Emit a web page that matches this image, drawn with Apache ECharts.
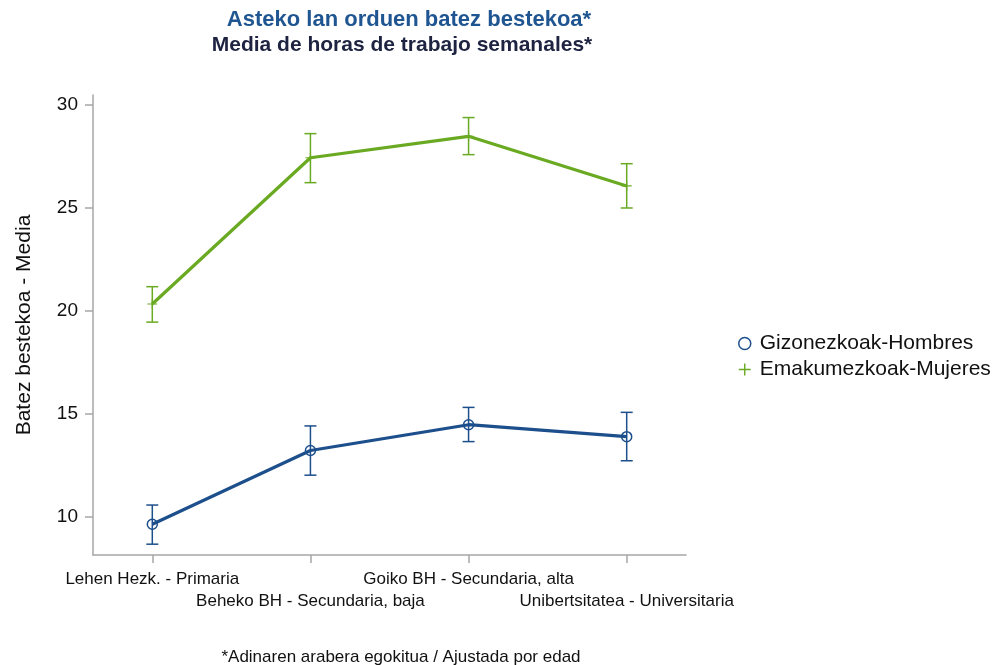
<!DOCTYPE html>
<html>
<head>
<meta charset="utf-8">
<script src="https://cdn.jsdelivr.net/npm/echarts@6/dist/echarts.min.js"></script>
<style>
html,body{margin:0;padding:0;background:#fff;}
#chart{width:1000px;height:665px;}
</style>
</head>
<body>
<div id="chart"></div>
<script>
// ---- data ----
const categories = ['Lehen Hezk. - Primaria', 'Beheko BH - Secundaria, baja', 'Goiko BH - Secundaria, alta', 'Unibertsitatea - Universitaria'];
const seriesNames = ['Gizonezkoak-Hombres', 'Emakumezkoak-Mujeres'];
const menMean = [9.65, 13.23, 14.48, 13.90];
const menLow  = [8.68, 12.03, 13.66, 12.73];
const menHigh = [10.58, 14.42, 15.32, 15.08];
const womenMean = [20.34, 27.44, 28.48, 26.07];
const womenLow  = [19.46, 26.23, 27.59, 25.00];
const womenHigh = [21.18, 28.61, 29.39, 27.15];
const yTicks = [10, 15, 20, 25, 30];
const xTicks = [1, 2, 3, 4];
const xTicksRow1 = [1, 3];
const xTicksRow2 = [2, 4];

const blue = '#1c4f8b';
const green = '#6aaa22';
const plusPath = 'path://M4.4,0H5.6V4.4H10V5.6H5.6V10H4.4V5.6H0V4.4H4.4Z';
const font = 'Liberation Sans, Arial, sans-serif';

function pts(arr){ return arr.map((v,i)=>[xTicks[i], v]); }
function errData(lo, hi){ return lo.map((v,i)=>[xTicks[i], v, hi[i]]); }

function errorRender(color){
  return function(params, api){
    const x = api.value(0);
    const lo = api.coord([x, api.value(1)]);
    const hi = api.coord([x, api.value(2)]);
    const hw = 6;
    const st = {stroke: color, lineWidth: 1.5, fill: null};
    return {type:'group', children:[
      {type:'line', shape:{x1:lo[0], y1:lo[1], x2:hi[0], y2:hi[1]}, style:st},
      {type:'line', shape:{x1:lo[0]-hw, y1:lo[1], x2:lo[0]+hw, y2:lo[1]}, style:st},
      {type:'line', shape:{x1:hi[0]-hw, y1:hi[1], x2:hi[0]+hw, y2:hi[1]}, style:st}
    ]};
  };
}

function catLabel(v){ return categories[Math.round(v)-1]; }
const axisGray = '#a6a6a6';

const chart = echarts.init(document.getElementById('chart'), null, {renderer:'canvas'});
chart.setOption({
  animation:false,
  backgroundColor:'#fff',
  textStyle:{fontFamily:font},
  grid:{left:93, right:314, top:95, bottom:110, containLabel:false},
  graphic:[
    {type:'text', x:409, y:20, style:{text:'Asteko lan orduen batez bestekoa*', fill:'#1f5591', font:'bold 22px '+font, textAlign:'center', textVerticalAlign:'middle'}},
    {type:'text', x:402, y:45, style:{text:'Media de horas de trabajo semanales*', fill:'#1d2340', font:'bold 21px '+font, textAlign:'center', textVerticalAlign:'middle'}},
    {type:'text', x:401, y:657, style:{text:'*Adinaren arabera egokitua / Ajustada por edad', fill:'#111', font:'17px '+font, textAlign:'center', textVerticalAlign:'middle'}}
  ],
  legend:{
    orient:'vertical', left:733, top:328, itemGap:5, itemWidth:12, itemHeight:12,
    textStyle:{fontSize:21, color:'#111', fontFamily:font, padding:[0,0,0,4]},
    data:[
      {name:seriesNames[0], icon:'circle', itemStyle:{color:'#fff', borderColor:blue, borderWidth:1.5}},
      {name:seriesNames[1], icon:plusPath, itemStyle:{color:green, borderWidth:0}}
    ]
  },
  xAxis:[
    {
      type:'value', min:0.625, max:4.375, position:'bottom',
      axisLine:{show:true, lineStyle:{color:axisGray, width:1.5}},
      axisTick:{show:true, length:8, customValues:xTicks, lineStyle:{color:axisGray, width:1.5}},
      axisLabel:{customValues:xTicksRow1, margin:16, fontSize:17, color:'#111', formatter:catLabel},
      splitLine:{show:false}
    },
    {
      type:'value', min:0.625, max:4.375, position:'bottom', offset:0,
      axisLine:{show:false}, axisTick:{show:false},
      axisLabel:{customValues:xTicksRow2, margin:38, fontSize:17, color:'#111', formatter:catLabel},
      splitLine:{show:false}
    }
  ],
  yAxis:{
    type:'value', min:8.155, max:30.485,
    name:'Batez bestekoa - Media', nameLocation:'middle', nameGap:58, nameRotate:90,
    nameTextStyle:{fontSize:21, color:'#111', fontFamily:font},
    axisLine:{show:true, lineStyle:{color:axisGray, width:1.5}},
    axisTick:{show:true, length:8, customValues:yTicks, lineStyle:{color:axisGray, width:1.5}},
    axisLabel:{customValues:yTicks, margin:15, fontSize:19, color:'#111'},
    splitLine:{show:false}
  },
  series:[
    {name:seriesNames[0], type:'line', data:pts(menMean), symbol:'circle', symbolSize:10,
      lineStyle:{color:blue, width:3.2}, itemStyle:{color:'rgba(0,0,0,0)', borderColor:blue, borderWidth:1.5}, z:3},
    {name:seriesNames[1], type:'line', data:pts(womenMean), symbol:plusPath, symbolSize:10,
      lineStyle:{color:green, width:3.2}, itemStyle:{color:green}, z:3},
    {name:seriesNames[0], type:'custom', renderItem:errorRender(blue), data:errData(menLow, menHigh), encode:{x:0, y:[1,2]}, z:2},
    {name:seriesNames[1], type:'custom', renderItem:errorRender(green), data:errData(womenLow, womenHigh), encode:{x:0, y:[1,2]}, z:2}
  ]
});
</script>
</body>
</html>
